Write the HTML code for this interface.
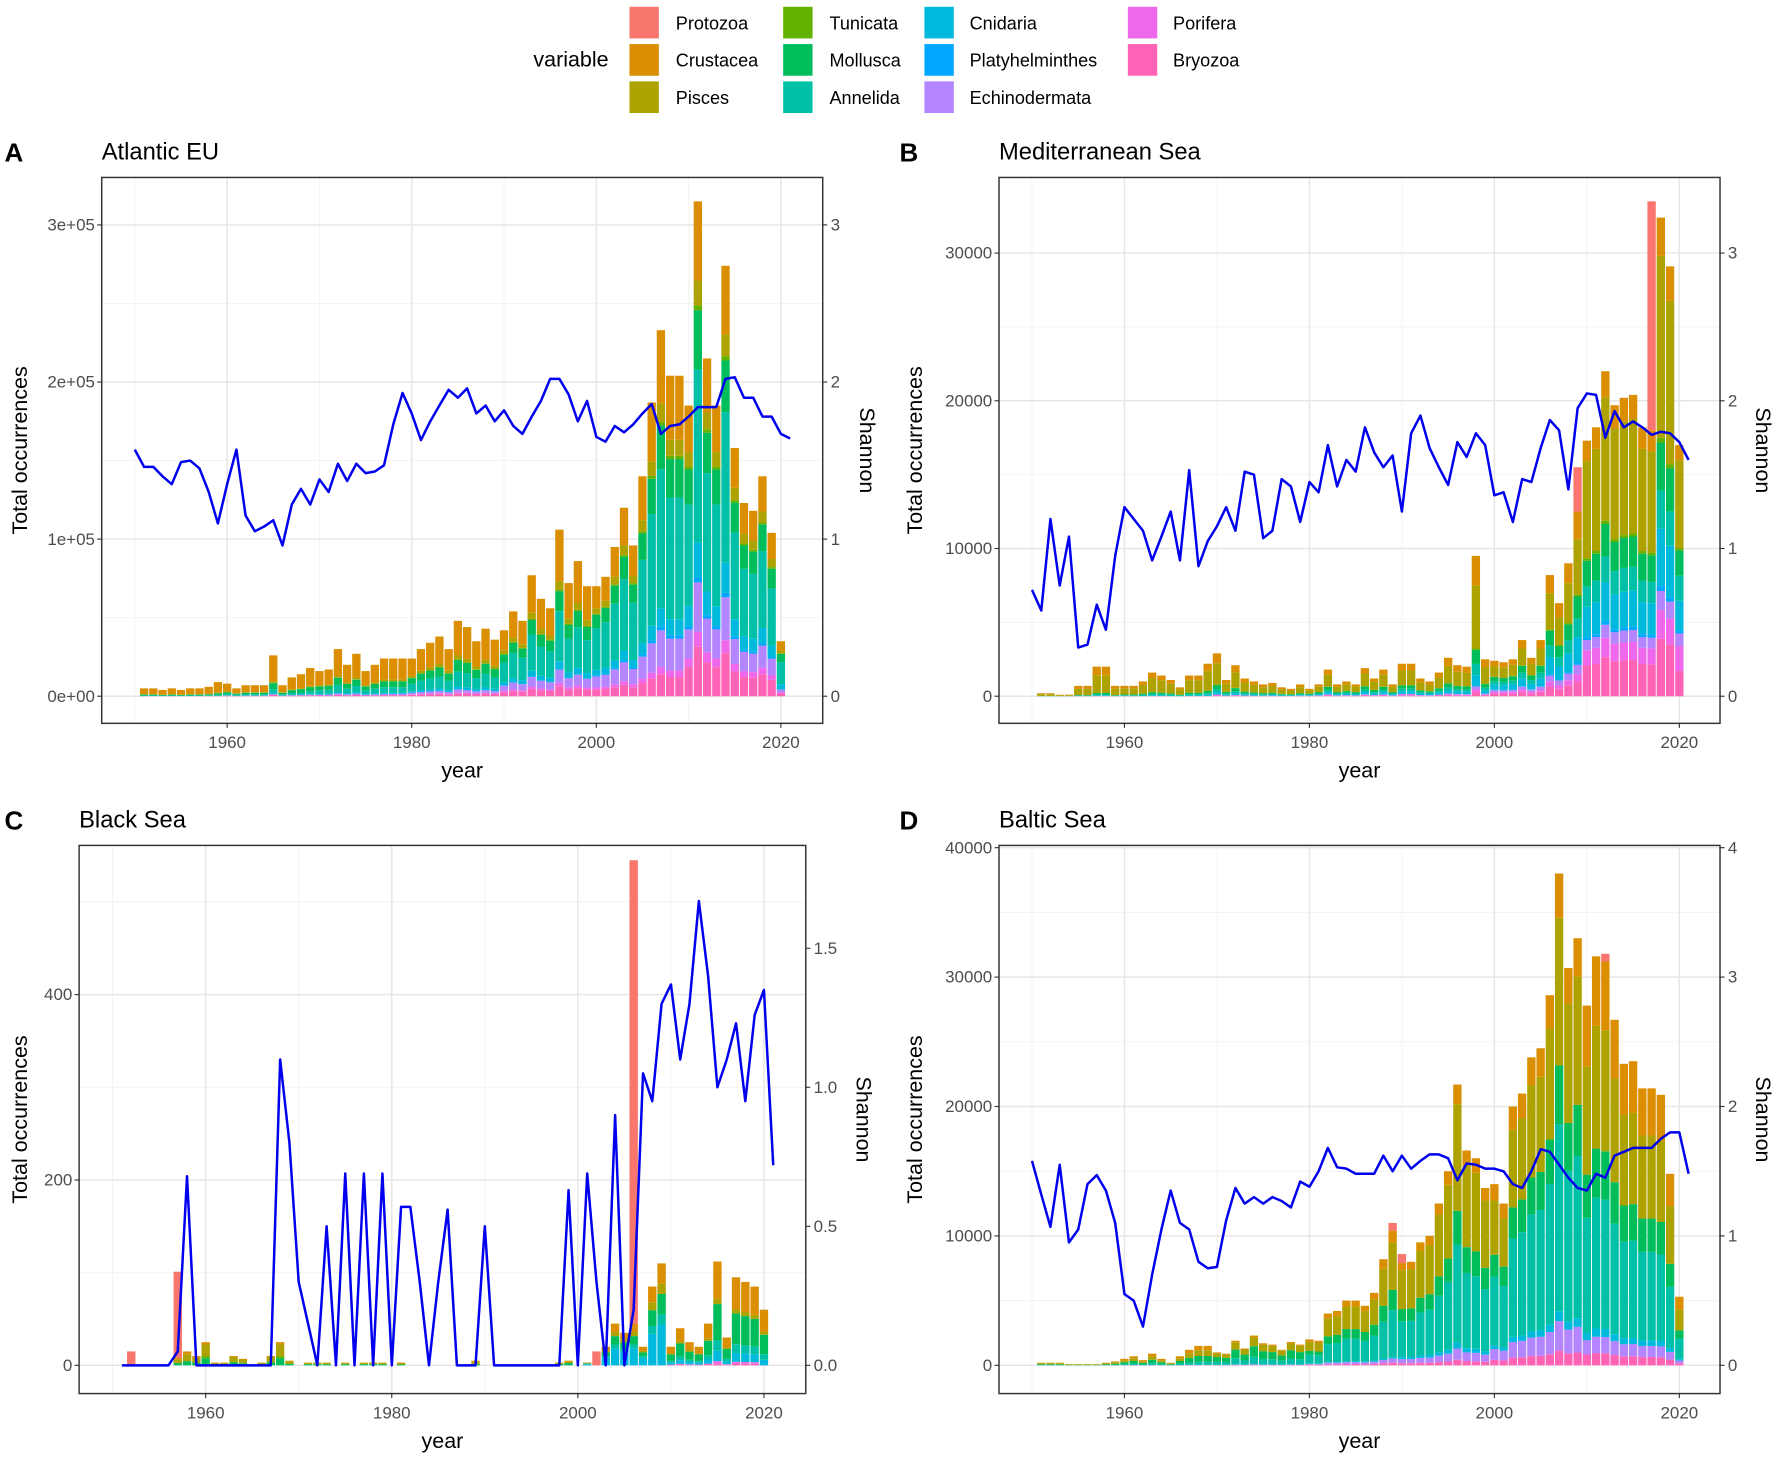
<!DOCTYPE html>
<html><head><meta charset="utf-8"><style>
html,body{margin:0;padding:0;background:#fff}
svg{display:block}
text{font-family:"Liberation Sans",Arial,sans-serif}
</style></head><body>
<svg id="fig" xmlns="http://www.w3.org/2000/svg" width="1772" height="1458" viewBox="0 0 1568 1290" preserveAspectRatio="none">
<g id="legend">
<text x="472" y="59" font-size="19" fill="#000">variable</text>
</g>
</svg>
<script>
const NS='http://www.w3.org/2000/svg';
const svg=document.getElementById('fig');
const taxa=['Protozoa','Crustacea','Pisces','Tunicata','Mollusca','Annelida','Cnidaria','Platyhelminthes','Echinodermata','Porifera','Bryozoa'];
const colors=['#F8766D','#DB8E00','#AEA200','#64B200','#00BD5C','#00C1A7','#00BADE','#00A6FF','#B385FF','#EF67EB','#FF63B6'];

// years 1951..2020 bar totals (non-protozoa)
const atlTotals=[5,5,4,5,4,5,5,6,9,8, 5,7,7,7,26,7,12,14,18,16, 17,30,20,27,16,20,24,24,24,24, 30,34,38,30,48,44,35,43,36,42, 54,48,77,62,56,106,72,86,70,70, 76,95,120,96,140,187,233,204,204,185, 315,215,185,274,158,123,118,140,104,35];
const medTotals=[200,200,100,100,700,700,2000,2000,700,700, 700,1000,1600,1400,1100,600,1400,1400,2200,2900, 1100,2100,1200,1000,800,900,600,500,800,500, 800,1800,800,1000,800,1900,1200,1800,800,2200, 2200,1200,1000,1600,2600,2100,2000,9500,2500,2400, 2300,2500,3800,2600,3800,8200,6300,9000,12500,17300, 18200,22000,19700,20200,20400,18200,18000,32400,29100,17000];
const blkTotals=[0,0,0,0,0,0,8,15,10,25, 3,3,10,7,0,3,10,25,5,0, 3,3,3,0,3,0,3,3,3,0, 3,0,0,0,0,0,0,0,5,0, 0,0,0,0,0,0,0,3,5,0, 3,0,20,45,35,45,20,85,110,20, 40,25,20,45,112,30,95,90,85,60];
const balTotals=[200,200,200,100,100,100,100,200,300,500, 700,400,900,500,200,700,1200,1500,1500,1000, 900,1900,1300,2300,1700,1600,1200,1800,1600,2000, 1900,4000,4200,5000,5000,4600,5600,8200,10400,7900, 8000,9500,10000,12500,15000,21700,16600,16000,13700,14000, 12500,20000,21000,23800,24500,28600,38000,30700,33000,27800, 31600,31200,26700,23300,23500,21400,21400,20900,14800,5300];

// protozoa (year, value)
const atlProtoYears=[];const atlProtoVals=[];
const medProtoYears=[2009,2017];const medProtoVals=[3000,15500];
const blkProtoYears=[1952,1957,2002,2006];const blkProtoVals=[15,93,15,500];
const balProtoYears=[1989,1990,2012];const balProtoVals=[600,700,600];

// per-decade shares (1950s..2020) for Bryozoa,Porifera,Echinodermata,Platyhelminthes,Cnidaria,Annelida,Mollusca,Tunicata,Pisces ; Crustacea = rest
const atlShares=[[.02,.03,.03,.04,.06,.06,.10,.05],[0,0,0,.01,.02,.02,.03,.02],[.01,.02,.03,.04,.08,.10,.10,.05],[0,0,0,0,0,.01,.01,0],[.01,.02,.03,.04,.05,.05,.07,.10],[.05,.10,.15,.20,.30,.38,.35,.40],[.12,.15,.15,.15,.12,.12,.12,.15],[.01,.01,.01,.01,.01,.01,.01,.01],[.03,.04,.04,.05,.05,.05,.05,.05]];
const medShares=[[.01,.01,.02,.03,.03,.08,.12,.10],[0,0,.01,.02,.02,.04,.06,.10],[0,0,.01,.02,.02,.05,.04,.05],[0,0,0,0,0,.01,.01,.01],[.02,.03,.05,.08,.08,.14,.12,.12],[.03,.05,.07,.08,.08,.10,.08,.10],[.05,.08,.10,.12,.10,.12,.10,.10],[0,0,.01,.01,.01,.01,.01,.01],[.60,.60,.50,.45,.45,.30,.38,.35]];
const blkShares=[[0,0,0,0,0,0,.02,0],[0,0,0,0,0,0,.02,0],[0,0,0,0,0,0,0,0],[0,0,0,0,0,0,0,0],[0,0,0,0,0,.40,.10,.10],[0,0,0,0,0,.10,.10,.10],[.30,.30,.40,.30,.50,.20,.35,.35],[0,.10,.10,0,0,0,0,0],[.50,.50,.40,.50,.30,.10,.05,.05]];
const balShares=[[.01,.01,.01,.02,.02,.03,.03,.03],[0,0,0,0,0,0,0,0],[0,.01,.02,.03,.04,.06,.04,.04],[0,0,0,0,0,0,0,0],[.01,.01,.01,.01,.02,.02,.02,.02],[.10,.15,.25,.35,.35,.38,.32,.30],[.30,.30,.35,.15,.12,.12,.12,.12],[0,0,0,0,0,0,0,0],[.40,.30,.30,.35,.38,.30,.30,.30]];

// Shannon
const atlShannon=[1.57,1.46,1.46,1.40,1.35,1.49,1.50,1.45,1.30,1.10,1.35,1.57,1.15,1.05,1.08,1.12,0.96,1.22,1.32,1.22,1.38,1.30,1.48,1.37,1.48,1.42,1.43,1.47,1.73,1.93,1.80,1.63,1.75,1.85,1.95,1.90,1.96,1.80,1.85,1.75,1.82,1.72,1.67,1.78,1.88,2.02,2.02,1.92,1.75,1.88,1.65,1.62,1.72,1.68,1.73,1.80,1.86,1.67,1.72,1.73,1.78,1.84,1.84,1.84,2.02,2.03,1.90,1.90,1.78,1.78,1.67,1.64];
const medShannon=[0.72,0.58,1.20,0.75,1.08,0.33,0.35,0.62,0.45,0.95,1.28,1.20,1.12,0.92,1.08,1.25,0.92,1.53,0.88,1.05,1.15,1.28,1.12,1.52,1.50,1.07,1.12,1.47,1.42,1.18,1.45,1.38,1.70,1.42,1.60,1.52,1.82,1.65,1.55,1.63,1.25,1.78,1.90,1.68,1.55,1.43,1.72,1.62,1.78,1.70,1.36,1.38,1.18,1.47,1.45,1.68,1.87,1.80,1.40,1.95,2.05,2.04,1.75,1.93,1.82,1.86,1.82,1.77,1.79,1.78,1.72,1.60];
const blkShannon=[0,0,0,0,0,0,0.05,0.68,0,0,0,0,0,0,0,0,0,1.1,0.8,0.3,0.15,0,0.5,0,0.69,0,0.69,0,0.69,0,0.57,0.57,0.3,0,0.3,0.56,0,0,0,0.5,0,0,0,0,0,0,0,0,0.63,0,0.69,0.3,0,0.9,0,0.2,1.05,0.95,1.3,1.37,1.1,1.3,1.67,1.4,1.0,1.1,1.23,0.95,1.26,1.35,0.72];
const balShannon=[1.58,1.32,1.07,1.55,0.95,1.05,1.40,1.47,1.35,1.10,0.55,0.50,0.30,0.70,1.05,1.35,1.10,1.05,0.80,0.75,0.76,1.12,1.37,1.25,1.30,1.25,1.30,1.27,1.22,1.42,1.38,1.50,1.68,1.53,1.52,1.48,1.48,1.48,1.62,1.50,1.62,1.52,1.58,1.63,1.63,1.60,1.43,1.56,1.55,1.52,1.52,1.50,1.40,1.37,1.50,1.67,1.65,1.55,1.45,1.37,1.35,1.48,1.45,1.62,1.65,1.68,1.68,1.68,1.75,1.80,1.80,1.48];

const legendCols=[[557,598],[693,734],[818,858],[998,1038]];
const legendOrder=[0,1,2,3,4,5,6,7,8,9,10];
function el(tag,attrs,parent){const e=document.createElementNS(NS,tag);for(const k in attrs)e.setAttribute(k,attrs[k]);(parent||svg).appendChild(e);return e;}

const lg=document.getElementById('legend');
legendOrder.forEach((ti,i)=>{
  const c=Math.floor(i/3),r=i%3;const y=6+r*33;
  const g=el('g',{},lg);
  
  
  el('rect',{x:legendCols[c][0],y:y,width:26,height:28,fill:colors[ti]},g);
  const t=el('text',{x:legendCols[c][1],y:y+20,'font-size':16,fill:'#000'},g);t.textContent=taxa[ti];
});

function panel(cfg){
  const g=el('g',{});
  
  
  const X=yr=>cfg.xa+(yr-1960)*(cfg.xb-cfg.xa)/60;
  const Y=v=>cfg.y0v-v*cfg.ky;
  const S=v=>cfg.y0v-v*cfg.ks;
  // panel background + grid
  el('rect',{x:cfg.x0,y:cfg.y0,width:cfg.x1-cfg.x0,height:cfg.y1-cfg.y0,fill:'#fff'},g);
  [1950,1970,1990,2010].forEach(yr=>el('line',{x1:X(yr),x2:X(yr),y1:cfg.y0,y2:cfg.y1,stroke:'#F2F2F2','stroke-width':0.8},g));
  cfg.minorY.forEach(v=>el('line',{x1:cfg.x0,x2:cfg.x1,y1:Y(v),y2:Y(v),stroke:'#F2F2F2','stroke-width':0.8},g));
  [1960,1980,2000,2020].forEach(yr=>el('line',{x1:X(yr),x2:X(yr),y1:cfg.y0,y2:cfg.y1,stroke:'#E6E6E6','stroke-width':1.3},g));
  cfg.ticksY.forEach(v=>el('line',{x1:cfg.x0,x2:cfg.x1,y1:Y(v),y2:Y(v),stroke:'#E6E6E6','stroke-width':1.3},g));
  // bars
  const bw=(cfg.xb-cfg.xa)/60*0.9;
  cfg.totals.forEach((tot,i)=>{
    const yr=1951+i; const d=Math.min(7,Math.floor((yr-1950)/10));
    const parts=[]; let used=0;
    const layerIdx=[10,9,8,7,6,5,4,3,2];
    cfg.shares.forEach((sh,k)=>{const v=tot*sh[d];used+=v;parts.push([layerIdx[k],v]);});
    parts.push([1,Math.max(0,tot-used)]);
    const pi=cfg.protoYears.indexOf(yr);
    if(pi>=0)parts.push([0,cfg.protoVals[pi]]);
    let base=0;
    parts.forEach(([ci,v])=>{
      if(v<=0)return;
      const r=el('rect',{x:X(yr)-bw/2,y:Y(base+v),width:bw,height:Math.max(0,Y(base)-Y(base+v)),fill:colors[ci]},g);
      
      
      base+=v;
    });
  });
  // shannon line
  const pts=cfg.shannon.map((v,i)=>X(cfg.sStart+i).toFixed(1)+','+S(v).toFixed(1)).join(' ');
  const pl=el('polyline',{points:pts,fill:'none',stroke:'#0000EE','stroke-width':2.2,'stroke-linejoin':'round'},g);
  
  
  // frame
  el('rect',{x:cfg.x0,y:cfg.y0,width:cfg.x1-cfg.x0,height:cfg.y1-cfg.y0,fill:'none',stroke:'#333','stroke-width':1.3},g);
  // left ticks
  cfg.ticksY.forEach((v,i)=>{
    el('line',{x1:cfg.x0-4,x2:cfg.x0,y1:Y(v),y2:Y(v),stroke:'#333'},g);
    const t=el('text',{x:cfg.x0-6,y:Y(v)+5,'font-size':15,fill:'#4D4D4D','text-anchor':'end'},g);
    
    
    t.textContent=cfg.labelsY[i];
  });
  cfg.ticksS.forEach((v,i)=>{
    el('line',{x1:cfg.x1,x2:cfg.x1+4,y1:S(v),y2:S(v),stroke:'#333'},g);
    const t=el('text',{x:cfg.x1+7,y:S(v)+5,'font-size':15,fill:'#4D4D4D'},g);
    
    
    t.textContent=cfg.labelsS[i];
  });
  [1960,1980,2000,2020].forEach(yr=>{
    el('line',{x1:X(yr),x2:X(yr),y1:cfg.y1,y2:cfg.y1+4,stroke:'#333'},g);
    const t=el('text',{x:X(yr),y:cfg.y1+22,'font-size':15,fill:'#4D4D4D','text-anchor':'middle'},g);
    
    
    t.textContent=yr;
  });
  const cx=(cfg.x0+cfg.x1)/2, cy=(cfg.y0+cfg.y1)/2;
  let t=el('text',{x:cx,y:cfg.y1+48,'font-size':19,fill:'#000','text-anchor':'middle'},g);
  t.textContent='year';
  t=el('text',{x:0,y:0,'font-size':19,fill:'#000','text-anchor':'middle',transform:`translate(${cfg.x0-cfg.ytOff},${cy}) rotate(-90)`},g);
  t.textContent='Total occurrences';
  t=el('text',{x:0,y:0,'font-size':19,fill:'#000','text-anchor':'middle',transform:`translate(${cfg.x1+cfg.stOff},${cy}) rotate(90)`},g);
  t.textContent='Shannon';
  t=el('text',{x:cfg.x0,y:cfg.y0-16,'font-size':21,fill:'#000'},g);
  t.textContent=cfg.title;
  t=el('text',{x:cfg.letterX,y:cfg.y0-14,'font-size':23,'font-weight':'bold',fill:'#000'},g);
  t.textContent=cfg.letter;
}

panel({name:'panel-atlantic',title:'Atlantic EU',letter:'A',letterX:4,x0:90,x1:728,y0:157,y1:640,xa:201,xb:691,y0v:616,ky:139/100,ks:139,
  totals:atlTotals,shares:atlShares,protoYears:atlProtoYears,protoVals:atlProtoVals,shannon:atlShannon,sStart:1950,
  ticksY:[0,100,200,300],labelsY:['0e+00','1e+05','2e+05','3e+05'],minorY:[50,150,250],ticksS:[0,1,2,3],labelsS:['0','1','2','3'],ytOff:66,stOff:33});
panel({name:'panel-mediterranean',title:'Mediterranean Sea',letter:'B',letterX:796,x0:884,x1:1522,y0:157,y1:640,xa:995,xb:1486,y0v:616,ky:130.7/10000,ks:130.7,
  totals:medTotals,shares:medShares,protoYears:medProtoYears,protoVals:medProtoVals,shannon:medShannon,sStart:1950,
  ticksY:[0,10000,20000,30000],labelsY:['0','10000','20000','30000'],minorY:[5000,15000,25000],ticksS:[0,1,2,3],labelsS:['0','1','2','3'],ytOff:68,stOff:32});
panel({name:'panel-black-sea',title:'Black Sea',letter:'C',letterX:4,x0:70,x1:713,y0:748,y1:1233,xa:182,xb:676,y0v:1208,ky:164/200,ks:246,
  totals:blkTotals,shares:blkShares,protoYears:blkProtoYears,protoVals:blkProtoVals,shannon:blkShannon,sStart:1951,
  ticksY:[0,200,400],labelsY:['0','200','400'],minorY:[100,300,500],ticksS:[0,0.5,1,1.5],labelsS:['0.0','0.5','1.0','1.5'],ytOff:46,stOff:45});
panel({name:'panel-baltic',title:'Baltic Sea',letter:'D',letterX:796,x0:884,x1:1522,y0:748,y1:1233,xa:995,xb:1486,y0v:1208,ky:114.5/10000,ks:114.5,
  totals:balTotals,shares:balShares,protoYears:balProtoYears,protoVals:balProtoVals,shannon:balShannon,sStart:1950,
  ticksY:[0,10000,20000,30000,40000],labelsY:['0','10000','20000','30000','40000'],minorY:[5000,15000,25000,35000],ticksS:[0,1,2,3,4],labelsS:['0','1','2','3','4'],ytOff:68,stOff:32});
</script>
</body></html>
